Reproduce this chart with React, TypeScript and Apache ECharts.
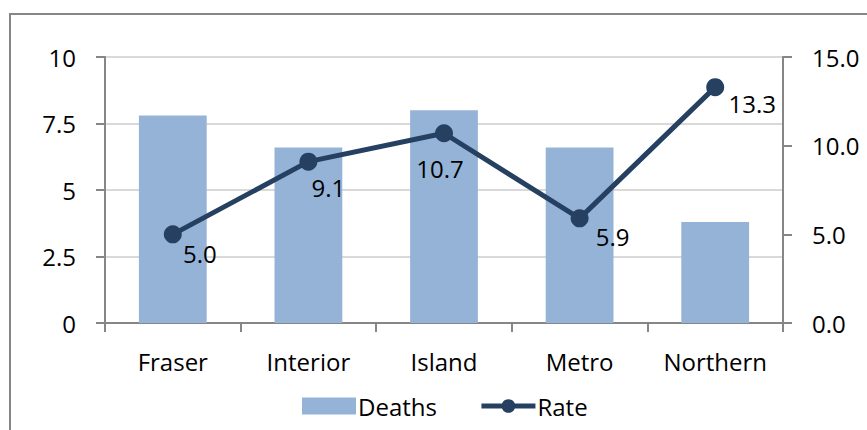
import React, { useEffect, useRef } from "react";
import * as echarts from "echarts";

const categories = ["Fraser", "Interior", "Island", "Metro", "Northern"];
const deaths = [7.8, 6.6, 8.0, 6.6, 3.8];
const rate = [5.0, 9.1, 10.7, 5.9, 13.3];
const leftTicks = { min: 0, max: 10, interval: 2.5 };
const rightTicks = { min: 0, max: 15, interval: 5 };

// label offsets (dx, dy) from each point to its label centre
const labelOffsets: [number, number][] = [
  [27, 19],
  [20, 26],
  [-4, 35],
  [33, 18],
  [37, 16],
];

const FONT = "'Open Sans', 'Noto Sans', sans-serif";
const AXIS_COLOR = "#868686";
const LINE_COLOR = "#254061";
const SYMBOL = 18;

export default function App() {
  const ref = useRef<HTMLDivElement>(null);
  useEffect(() => {
    if (!ref.current) return;
    const chart = echarts.init(ref.current, undefined, { renderer: "svg" });
    const textStyle = { fontFamily: FONT, fontSize: 24, color: "#000" };
    chart.setOption({
      animation: false,
      textStyle: { fontFamily: FONT },
      grid: { left: 105, right: 84, top: 57, bottom: 107 },
      graphic: [
        {
          type: "rect",
          shape: { x: 10, y: 14, width: 900, height: 500 },
          style: { fill: "none", stroke: AXIS_COLOR, lineWidth: 2 },
          silent: true,
        },
      ],
      legend: {
        left: 297,
        top: 389,
        itemWidth: 54,
        itemHeight: 17,
        itemGap: 42,
        textStyle: { ...textStyle, padding: [0, 0, 0, -3] },
        data: [
          { name: "Deaths", icon: "rect" },
          { name: "Rate", lineStyle: { width: 5, color: LINE_COLOR } },
        ],
      },
      xAxis: {
        type: "category",
        data: categories,
        axisLine: { lineStyle: { color: AXIS_COLOR, width: 2 } },
        axisTick: { show: true, length: 9, lineStyle: { color: AXIS_COLOR, width: 2 } },
        axisLabel: { ...textStyle, margin: 26 },
      },
      yAxis: [
        {
          type: "value",
          min: leftTicks.min,
          max: leftTicks.max,
          interval: leftTicks.interval,
          axisLine: { show: true, lineStyle: { color: AXIS_COLOR, width: 2 } },
          axisTick: { show: true, length: 9, lineStyle: { color: AXIS_COLOR, width: 2 } },
          axisLabel: { ...textStyle, margin: 29 },
          splitLine: { lineStyle: { color: "#D9D9D9", width: 2 } },
        },
        {
          type: "value",
          min: rightTicks.min,
          max: rightTicks.max,
          interval: rightTicks.interval,
          axisLine: { show: true, lineStyle: { color: AXIS_COLOR, width: 2 } },
          axisTick: { show: true, length: 9, lineStyle: { color: AXIS_COLOR, width: 2 } },
          axisLabel: { ...textStyle, margin: 29, formatter: (v: number) => v.toFixed(1) },
          splitLine: { show: false },
        },
      ],
      series: [
        {
          name: "Deaths",
          type: "bar",
          data: deaths,
          barWidth: "50%",
          itemStyle: { color: "#95B3D7" },
          yAxisIndex: 0,
        },
        {
          name: "Rate",
          type: "line",
          yAxisIndex: 1,
          data: rate.map((v, i) => ({
            value: v,
            label: {
              show: true,
              position: [SYMBOL / 2 + labelOffsets[i][0], SYMBOL / 2 + labelOffsets[i][1]],
              align: "center",
              verticalAlign: "middle",
              formatter: (p: any) => Number(p.value).toFixed(1),
              ...textStyle,
            },
          })),
          symbol: "circle",
          symbolSize: SYMBOL,
          lineStyle: { color: LINE_COLOR, width: 5 },
          itemStyle: { color: LINE_COLOR },
          z: 3,
        },
      ],
    });
    return () => chart.dispose();
  }, []);
  return <div ref={ref} style={{ width: 867, height: 430, position: "absolute", left: 0, top: 0 }} />;
}
